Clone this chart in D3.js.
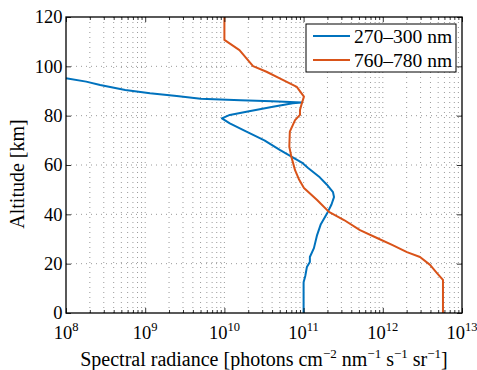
<!DOCTYPE html>
<html>
<head>
<meta charset="utf-8">
<script src="https://cdn.jsdelivr.net/npm/d3@7"></script>
</head>
<body style="margin:0">
<svg id="chart" width="477" height="370" font-family="Liberation Serif"></svg>
<script>
// altitude [km] and radiance values
const uvAltitude = [0, 12.5, 15, 18.6, 20.7, 22.7, 26.3, 31.6, 36, 40, 44, 47, 49, 52, 55, 58.8, 61, 66.1, 70, 73.5, 76.9, 78.9, 80.3, 81.6, 83.6, 85, 85.3, 85.8, 86.3, 86.9, 88, 89.1, 90.4, 92.4, 93.8, 95.2];
const uvRadiance = [1.0e11, 1.0e11, 1.05e11, 1.1e11, 1.2e11, 1.2e11, 1.35e11, 1.48e11, 1.65e11, 1.95e11, 2.25e11, 2.42e11, 2.35e11, 1.97e11, 1.6e11, 1.14e11, 9.5e10, 5.0e10, 3.2e10, 1.9e10, 1.17e10, 9.3e9, 1.17e10, 1.9e10, 4.1e10, 7.3e10, 9.5e10, 4.0e10, 1.6e10, 5.0e9, 2.5e9, 1.15e9, 5.6e8, 2.7e8, 1.8e8, 1.0e8];

const visAltitude = [0, 13.4, 16.2, 19.5, 22.7, 24.7, 27.6, 30.4, 33.6, 37.7, 41, 45.8, 50.7, 54, 57.9, 63.4, 67.4, 73.5, 78.2, 80.3, 82.3, 85, 87.7, 91.7, 95.1, 97.8, 100.1, 106.6, 110.7, 120];
const visRadiance = [5.75e12, 5.75e12, 4.83e12, 3.95e12, 2.95e12, 2.02e12, 1.31e12, 8.45e11, 5.15e11, 3.24e11, 2.09e11, 1.48e11, 1.01e11, 8.8e10, 7.8e10, 7.0e10, 6.6e10, 6.7e10, 7.8e10, 9.0e10, 9.0e10, 9.5e10, 1.01e11, 8.2e10, 5.0e10, 3.4e10, 2.3e10, 1.55e10, 1.0e10, 1.0e10];

const seriesNames = ["270\u2013300 nm", "760\u2013780 nm"];
const seriesColors = ["#0072bd", "#d95319"];
const xDecades = [8, 9, 10, 11, 12, 13];
const yTicks = [0, 20, 40, 60, 80, 100, 120];

const margin = { top: 17, right: 15, bottom: 57, left: 66 };
const width = 477 - margin.left - margin.right;
const height = 370 - margin.top - margin.bottom;

const svg = d3.select("#chart");
const g = svg.append("g").attr("transform", "translate(" + margin.left + "," + margin.top + ")");

const x = d3.scaleLog().domain([1e8, 1e13]).range([0, width]);
const y = d3.scaleLinear().domain([0, 120]).range([height, 0]);

const majorX = xDecades.map(e => Math.pow(10, e));
const minorX = [];
xDecades.slice(0, -1).forEach(e => {
  for (let k = 2; k <= 9; k++) minorX.push(k * Math.pow(10, e));
});

// dotted grid
g.append("g").selectAll("line.vg")
  .data(majorX.concat(minorX).filter(v => v > 1e8 && v < 1e13))
  .enter().append("line")
  .attr("x1", d => x(d)).attr("x2", d => x(d))
  .attr("y1", 0).attr("y2", height)
  .attr("stroke", "#808080").attr("stroke-width", 0.8)
  .attr("stroke-dasharray", "1,4");

g.append("g").selectAll("line.hg")
  .data(yTicks.filter(v => v > 0 && v < 120))
  .enter().append("line")
  .attr("x1", 0).attr("x2", width)
  .attr("y1", d => y(d)).attr("y2", d => y(d))
  .attr("stroke", "#808080").attr("stroke-width", 0.8)
  .attr("stroke-dasharray", "1,4");

// curves
const lineFn = d3.line().x(d => x(d[0])).y(d => y(d[1]));
const series = [
  d3.zip(uvRadiance, uvAltitude),
  d3.zip(visRadiance, visAltitude)
];
series.forEach((pts, i) => {
  g.append("path")
    .datum(pts)
    .attr("fill", "none")
    .attr("stroke", seriesColors[i])
    .attr("stroke-width", 2)
    .attr("stroke-linejoin", "round")
    .attr("d", lineFn);
});

// axes, ticks pointing inward on all sides
function styleAxis(sel) {
  sel.select(".domain").remove();
  sel.selectAll("line").attr("stroke", "#000").attr("stroke-width", 0.8);
}
g.append("g").attr("transform", "translate(0," + height + ")")
  .call(d3.axisBottom(x).tickValues(majorX).tickSize(-5).tickFormat(""))
  .call(styleAxis);
g.append("g").attr("transform", "translate(0," + height + ")")
  .call(d3.axisBottom(x).tickValues(minorX).tickSize(-3).tickFormat(""))
  .call(styleAxis);
g.append("g")
  .call(d3.axisTop(x).tickValues(majorX).tickSize(-5).tickFormat(""))
  .call(styleAxis);
g.append("g")
  .call(d3.axisTop(x).tickValues(minorX).tickSize(-3).tickFormat(""))
  .call(styleAxis);
g.append("g")
  .call(d3.axisLeft(y).tickValues(yTicks).tickSize(-5).tickFormat(""))
  .call(styleAxis);
g.append("g").attr("transform", "translate(" + width + ",0)")
  .call(d3.axisRight(y).tickValues(yTicks).tickSize(-5).tickFormat(""))
  .call(styleAxis);

// box
g.append("rect")
  .attr("width", width).attr("height", height)
  .attr("fill", "none").attr("stroke", "#000").attr("stroke-width", 1.3);

// tick labels
g.append("g").selectAll("text")
  .data(yTicks).enter().append("text")
  .attr("x", -3.5).attr("y", d => y(d))
  .attr("dy", "0.34em")
  .attr("text-anchor", "end")
  .attr("font-size", 18.5)
  .text(d => d);

const xl = g.append("g").selectAll("text")
  .data(xDecades).enter().append("text")
  .attr("x", d => x(Math.pow(10, d)))
  .attr("y", height + 26)
  .attr("text-anchor", "middle")
  .attr("font-size", 18.5);
xl.append("tspan").text("10");
xl.append("tspan").attr("dy", -8).attr("font-size", 12.5).text(d => d);

// axis titles
const xt = svg.append("text")
  .attr("x", margin.left + width / 2)
  .attr("y", 366)
  .attr("text-anchor", "middle")
  .attr("font-size", 20);
const sup = (t) => xt.append("tspan").attr("dy", -8).attr("font-size", 13).text(t);
const base = (t) => xt.append("tspan").attr("dy", 8).text(t);
xt.append("tspan").text("Spectral radiance [photons cm");
sup("\u22122"); base(" nm");
sup("\u22121"); base(" s");
sup("\u22121"); base(" sr");
sup("\u22121"); base("]");

svg.append("text")
  .attr("transform", "translate(24,174) rotate(-90)")
  .attr("text-anchor", "middle")
  .attr("font-size", 20)
  .text("Altitude [km]");

// legend
const legend = svg.append("g").attr("transform", "translate(306,24)");
legend.append("rect")
  .attr("width", 150).attr("height", 48)
  .attr("fill", "#fff").attr("stroke", "#000").attr("stroke-width", 1);
seriesNames.forEach((name, i) => {
  const ly = 12 + i * 24;
  legend.append("line")
    .attr("x1", 7).attr("x2", 44).attr("y1", ly).attr("y2", ly)
    .attr("stroke", seriesColors[i]).attr("stroke-width", 2);
  legend.append("text")
    .attr("x", 48).attr("y", ly).attr("dy", "0.34em")
    .attr("font-size", 19.5)
    .text(name);
});
</script>
</body>
</html>
